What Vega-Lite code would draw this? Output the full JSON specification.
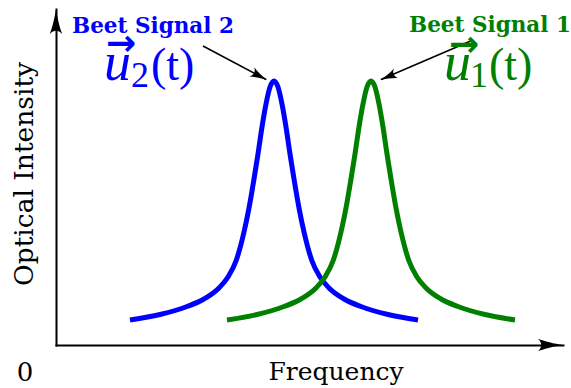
{
  "$schema": "https://vega.github.io/schema/vega-lite/v6.json",
  "width": 507,
  "height": 336,
  "autosize": {"type": "none"},
  "padding": {"left": 56, "top": 9, "right": 8, "bottom": 43},
  "background": "white",
  "view": {"stroke": null},
  "datasets": {
    "curves": [
      {"x": 130, "y": 25, "series": "u2"}, {"x": 160, "y": 30.5, "series": "u2"}, {"x": 187, "y": 38.5, "series": "u2"},
      {"x": 204, "y": 46, "series": "u2"}, {"x": 219, "y": 57, "series": "u2"}, {"x": 228, "y": 68, "series": "u2"},
      {"x": 236, "y": 84, "series": "u2"}, {"x": 244, "y": 113, "series": "u2"}, {"x": 249, "y": 137, "series": "u2"},
      {"x": 254, "y": 166, "series": "u2"}, {"x": 258, "y": 191, "series": "u2"}, {"x": 262, "y": 218, "series": "u2"},
      {"x": 266, "y": 241, "series": "u2"}, {"x": 270, "y": 258, "series": "u2"}, {"x": 274, "y": 264, "series": "u2"},
      {"x": 278, "y": 258, "series": "u2"}, {"x": 282, "y": 241, "series": "u2"}, {"x": 286, "y": 218, "series": "u2"},
      {"x": 290, "y": 191, "series": "u2"}, {"x": 294, "y": 166, "series": "u2"}, {"x": 299, "y": 137, "series": "u2"},
      {"x": 304, "y": 113, "series": "u2"}, {"x": 312, "y": 84, "series": "u2"}, {"x": 320, "y": 68, "series": "u2"},
      {"x": 329, "y": 57, "series": "u2"}, {"x": 344, "y": 46, "series": "u2"}, {"x": 361, "y": 38.5, "series": "u2"},
      {"x": 388, "y": 30.5, "series": "u2"}, {"x": 418, "y": 25, "series": "u2"},
      {"x": 227, "y": 25, "series": "u1"}, {"x": 257, "y": 30.5, "series": "u1"}, {"x": 284, "y": 38.5, "series": "u1"},
      {"x": 301, "y": 46, "series": "u1"}, {"x": 316, "y": 57, "series": "u1"}, {"x": 325, "y": 68, "series": "u1"},
      {"x": 333, "y": 84, "series": "u1"}, {"x": 341, "y": 113, "series": "u1"}, {"x": 346, "y": 137, "series": "u1"},
      {"x": 351, "y": 166, "series": "u1"}, {"x": 355, "y": 191, "series": "u1"}, {"x": 359, "y": 218, "series": "u1"},
      {"x": 363, "y": 241, "series": "u1"}, {"x": 367, "y": 258, "series": "u1"}, {"x": 371, "y": 264, "series": "u1"},
      {"x": 375, "y": 258, "series": "u1"}, {"x": 379, "y": 241, "series": "u1"}, {"x": 383, "y": 218, "series": "u1"},
      {"x": 387, "y": 191, "series": "u1"}, {"x": 391, "y": 166, "series": "u1"}, {"x": 396, "y": 137, "series": "u1"},
      {"x": 401, "y": 113, "series": "u1"}, {"x": 409, "y": 84, "series": "u1"}, {"x": 417, "y": 68, "series": "u1"},
      {"x": 426, "y": 57, "series": "u1"}, {"x": 441, "y": 46, "series": "u1"}, {"x": 458, "y": 38.5, "series": "u1"},
      {"x": 485, "y": 30.5, "series": "u1"}, {"x": 515, "y": 25, "series": "u1"}
    ],
    "pointers": [
      {"x": 203, "y": 299, "x2": 266, "y2": 265.5},
      {"x": 473, "y": 305, "x2": 381, "y2": 265.5}
    ],
    "axisHeads": [
      {"x": 550.5, "y": 0, "direction": 0},
      {"x": 56, "y": 323.5, "direction": 270}
    ],
    "pointerHeads": [
      {"x": 259.5, "y": 269, "direction": 28},
      {"x": 388, "y": 268.4, "direction": 156.7}
    ],
    "texts": [
      {"role": "label", "x": 72, "y": 312, "text": "Beet Signal 2", "series": "u2"},
      {"role": "label", "x": 409, "y": 313, "text": "Beet Signal 1", "series": "u1"},
      {"role": "vec", "x": 121, "y": 301, "text": "→", "series": "u2"},
      {"role": "vec", "x": 464, "y": 300, "text": "→", "series": "u1"},
      {"role": "u", "x": 104, "y": 265, "text": "u", "series": "u2"},
      {"role": "u", "x": 444, "y": 265, "text": "u", "series": "u1"},
      {"role": "sub", "x": 131, "y": 258, "text": "2", "series": "u2"},
      {"role": "sub", "x": 470, "y": 258, "text": "1", "series": "u1"},
      {"role": "arg", "x": 151, "y": 265, "text": "(t)", "series": "u2"},
      {"role": "arg", "x": 489, "y": 265, "text": "(t)", "series": "u1"}
    ],
    "origin": [{"x": 25, "y": -36, "text": "0"}]
  },
  "encoding": {
    "x": {"field": "x", "type": "quantitative",
          "scale": {"domain": [56, 563], "nice": false, "zero": false},
          "axis": {"domain": true, "domainColor": "black", "domainWidth": 2, "domainCap": "square",
                   "ticks": false, "labels": false, "grid": false,
                   "title": "Frequency", "titleFont": "DejaVu Serif", "titleFontSize": 25,
                   "titleFontWeight": "normal", "titleColor": "black",
                   "titleX": 279.5, "titleY": 34, "titleAlign": "center", "titleBaseline": "alphabetic"}},
    "y": {"field": "y", "type": "quantitative",
          "scale": {"domain": [0, 336], "nice": false, "zero": false},
          "axis": {"domain": true, "domainColor": "black", "domainWidth": 2, "domainCap": "square",
                   "ticks": false, "labels": false, "grid": false,
                   "title": "Optical Intensity", "titleFont": "DejaVu Serif", "titleFontSize": 26.5,
                   "titleFontWeight": "normal", "titleColor": "black", "titleAngle": 270,
                   "titleX": -24, "titleY": 164.5, "titleAlign": "center", "titleBaseline": "alphabetic"}}
  },
  "layer": [
    {
      "data": {"name": "curves"},
      "mark": {"type": "line", "strokeWidth": 5, "interpolate": "monotone"},
      "encoding": {
        "color": {"field": "series", "type": "nominal",
                  "scale": {"domain": ["u1", "u2"], "range": ["#008000", "#0000ff"]}, "legend": null}
      }
    },
    {
      "data": {"name": "pointers"},
      "mark": {"type": "rule", "color": "black", "strokeWidth": 1.6},
      "encoding": {
        "x2": {"field": "x2"},
        "y2": {"field": "y2"}
      }
    },
    {
      "data": {"name": "axisHeads"},
      "mark": {"type": "point", "filled": true, "color": "black", "opacity": 1, "size": 625, "strokeWidth": 0,
               "shape": "M1,0 C0.3,-0.1 -0.5,-0.3 -1,-0.5 C-0.65,-0.15 -0.65,0.15 -1,0.5 C-0.5,0.3 0.3,0.1 1,0 Z"},
      "encoding": {
        "angle": {"field": "direction", "type": "quantitative", "scale": null}
      }
    },
    {
      "data": {"name": "pointerHeads"},
      "mark": {"type": "point", "filled": true, "color": "black", "opacity": 1, "size": 300, "strokeWidth": 0,
               "shape": "M1,0 C0.3,-0.1 -0.5,-0.35 -1,-0.6 C-0.6,-0.15 -0.6,0.15 -1,0.6 C-0.5,0.35 0.3,0.1 1,0 Z"},
      "encoding": {
        "angle": {"field": "direction", "type": "quantitative", "scale": null}
      }
    },
    {
      "data": {"name": "texts"},
      "transform": [{"filter": "datum.role === 'label'"}],
      "mark": {"type": "text", "font": "DejaVu Serif", "fontWeight": "bold", "fontSize": 21.5, "align": "left", "baseline": "alphabetic"},
      "encoding": {
        "text": {"field": "text"},
        "color": {"field": "series", "type": "nominal", "scale": {"domain": ["u1", "u2"], "range": ["#008000", "#0000ff"]}, "legend": null}
      }
    },
    {
      "data": {"name": "texts"},
      "transform": [{"filter": "datum.role === 'vec'"}],
      "mark": {"type": "text", "font": "DejaVu Sans", "fontWeight": "bold", "fontSize": 36, "align": "center", "baseline": "middle"},
      "encoding": {
        "text": {"field": "text"},
        "color": {"field": "series", "type": "nominal", "scale": {"domain": ["u1", "u2"], "range": ["#008000", "#0000ff"]}, "legend": null}
      }
    },
    {
      "data": {"name": "texts"},
      "transform": [{"filter": "datum.role === 'u'"}],
      "mark": {"type": "text", "font": "Liberation Serif", "fontStyle": "italic", "fontSize": 54, "align": "left", "baseline": "alphabetic"},
      "encoding": {
        "text": {"field": "text"},
        "color": {"field": "series", "type": "nominal", "scale": {"domain": ["u1", "u2"], "range": ["#008000", "#0000ff"]}, "legend": null}
      }
    },
    {
      "data": {"name": "texts"},
      "transform": [{"filter": "datum.role === 'sub'"}],
      "mark": {"type": "text", "font": "Liberation Serif", "fontSize": 36, "align": "left", "baseline": "alphabetic"},
      "encoding": {
        "text": {"field": "text"},
        "color": {"field": "series", "type": "nominal", "scale": {"domain": ["u1", "u2"], "range": ["#008000", "#0000ff"]}, "legend": null}
      }
    },
    {
      "data": {"name": "texts"},
      "transform": [{"filter": "datum.role === 'arg'"}],
      "mark": {"type": "text", "font": "Liberation Serif", "fontSize": 46, "align": "left", "baseline": "alphabetic"},
      "encoding": {
        "text": {"field": "text"},
        "color": {"field": "series", "type": "nominal", "scale": {"domain": ["u1", "u2"], "range": ["#008000", "#0000ff"]}, "legend": null}
      }
    },
    {
      "data": {"name": "origin"},
      "mark": {"type": "text", "font": "DejaVu Serif", "fontSize": 26, "align": "center", "baseline": "alphabetic", "color": "black"},
      "encoding": {
        "text": {"field": "text"}
      }
    }
  ]
}
